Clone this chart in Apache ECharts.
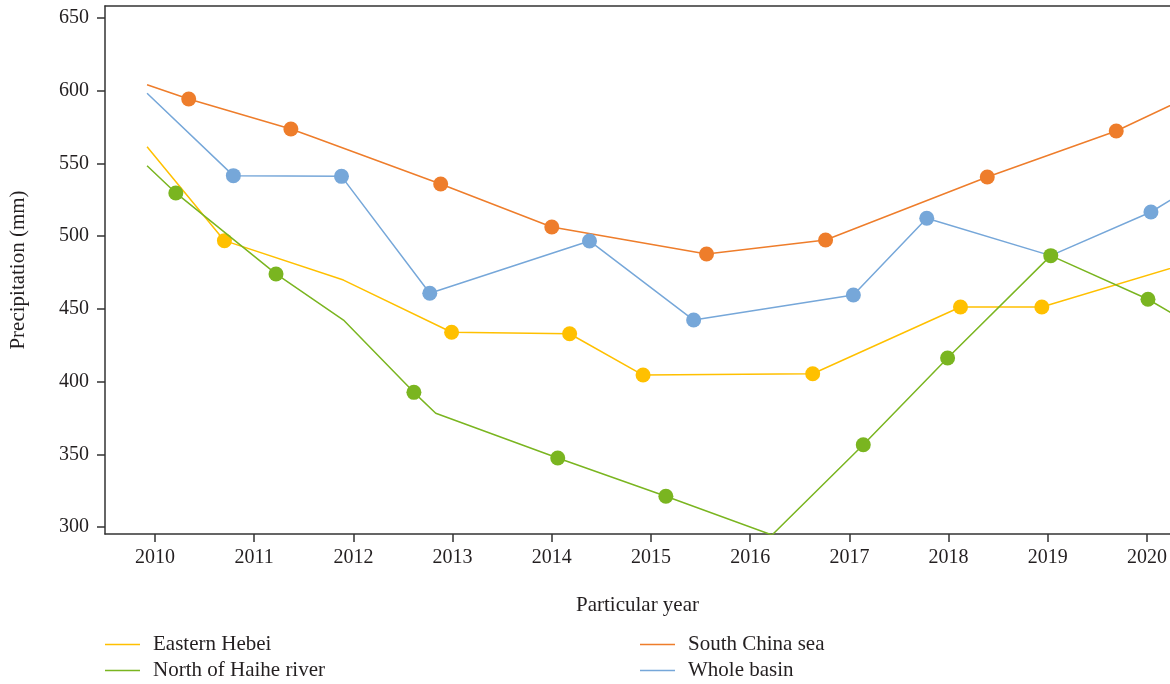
<!DOCTYPE html>
<html>
<head>
<meta charset="utf-8">
<script src="https://cdn.jsdelivr.net/npm/echarts@6/dist/echarts.min.js"></script>
<style>
html,body{margin:0;padding:0;background:#fff;}
#chart{width:1170px;height:684px;}
</style>
</head>
<body>
<div id="chart"></div>
<script>
// Tick labels
const xTicks = [2010, 2011, 2012, 2013, 2014, 2015, 2016, 2017, 2018, 2019, 2020];
const yTicks = [300, 350, 400, 450, 500, 550, 600, 650];
const seriesNames = ['Eastern Hebei', 'North of Haihe river', 'South China sea', 'Whole basin'];

// Eastern Hebei
const hebeiX = [2009.92, 2010.70, 2011.90, 2012.99, 2014.18, 2014.92, 2016.63, 2018.12, 2018.94, 2020.50];
const hebeiY = [561.5, 496.9, 469.8, 433.9, 432.9, 404.5, 405.4, 451.3, 451.3, 483.2];
const hebeiMark = [0, 1, 0, 1, 1, 1, 1, 1, 1, 0];

// North of Haihe river
const haiheX = [2009.92, 2010.21, 2011.22, 2011.90, 2012.61, 2012.83, 2014.06, 2015.15, 2016.22, 2017.14, 2017.99, 2019.03, 2020.01, 2020.50];
const haiheY = [548.4, 529.7, 474.0, 442.3, 392.6, 378.2, 347.4, 321.1, 294.5, 356.6, 416.2, 486.6, 456.6, 437.2];
const haiheMark = [0, 1, 1, 0, 1, 0, 1, 1, 0, 1, 1, 1, 1, 0];

// South China sea
const scsX = [2009.92, 2010.34, 2011.37, 2011.60, 2012.88, 2014.00, 2015.56, 2016.76, 2018.39, 2019.69, 2020.50];
const scsY = [604.1, 594.3, 573.7, 568.0, 535.9, 506.3, 487.7, 497.3, 540.7, 572.3, 598.4];
const scsMark = [0, 1, 1, 0, 1, 1, 1, 1, 1, 1, 0];

// Whole basin
const basinX = [2009.92, 2010.79, 2011.88, 2012.77, 2014.38, 2015.43, 2017.04, 2017.78, 2019.03, 2020.04, 2020.50];
const basinY = [598.2, 541.6, 541.1, 460.7, 496.7, 442.3, 459.5, 512.3, 486.6, 516.6, 535.6];
const basinMark = [0, 1, 1, 1, 1, 1, 1, 1, 0, 1, 0];

const colors = ['#FFC000', '#7AB520', '#EE7D2B', '#76A7D9'];
const FONT = 'Liberation Serif';
const TXT = '#231F20';

function build(xs, ys, marks) {
  return xs.map((x, i) => ({ value: [x, ys[i]], symbol: marks[i] ? 'circle' : 'none' }));
}

function lineSeries(name, data, color, z) {
  return {
    name: name,
    type: 'line',
    data: data,
    symbolSize: 15,
    showAllSymbol: true,
    z: z,
    lineStyle: { color: color, width: 1.5 },
    itemStyle: { color: color },
    emphasis: { disabled: true },
    animation: false
  };
}

function legendFor(name, left, top) {
  return {
    data: [name],
    left: left,
    top: top,
    icon: 'rect',
    itemWidth: 35,
    itemHeight: 1.5,
    padding: 0,
    selectedMode: false,
    textStyle: { fontFamily: FONT, fontSize: 21, color: TXT, padding: [0, 0, 0, 8] }
  };
}

const chart = echarts.init(document.getElementById('chart'), null, { renderer: 'canvas' });

const option = {
  backgroundColor: '#ffffff',
  animation: false,
  grid: { left: 105, right: 0, top: 6, bottom: 150, containLabel: false },
  legend: [
    legendFor(seriesNames[0], 105, 634),
    legendFor(seriesNames[1], 105, 660),
    legendFor(seriesNames[2], 640, 634),
    legendFor(seriesNames[3], 640, 660)
  ],
  xAxis: [
    {
      type: 'value',
      min: 2009.496,
      max: 2020.232,
      name: 'Particular year',
      nameLocation: 'middle',
      nameGap: 61,
      nameTextStyle: { fontFamily: FONT, fontSize: 21, color: TXT },
      axisLine: { show: true, lineStyle: { color: '#333', width: 1.5 } },
      axisTick: { show: true, length: 8, lineStyle: { color: '#333', width: 1.5 }, customValues: xTicks },
      axisLabel: { margin: 14, fontFamily: FONT, fontSize: 20, color: TXT, customValues: xTicks, formatter: v => String(v) },
      splitLine: { show: false }
    },
    {
      type: 'value',
      position: 'top',
      min: 2009.496,
      max: 2020.232,
      axisLine: { show: true, onZero: false, lineStyle: { color: '#333', width: 1.5 } },
      axisTick: { show: false },
      axisLabel: { show: false },
      splitLine: { show: false }
    }
  ],
  yAxis: {
    type: 'value',
    min: 295.19,
    max: 658.25,
    name: 'Precipitation (mm)',
    nameLocation: 'middle',
    nameRotate: 90,
    nameGap: 76,
    nameTextStyle: { fontFamily: FONT, fontSize: 21, color: TXT },
    axisLine: { show: true, lineStyle: { color: '#333', width: 1.5 } },
    axisTick: { show: true, length: 8, lineStyle: { color: '#333', width: 1.5 }, customValues: yTicks },
    axisLabel: { margin: 16, fontFamily: FONT, fontSize: 20, color: TXT, customValues: yTicks },
    splitLine: { show: false }
  },
  series: [
    lineSeries(seriesNames[0], build(hebeiX, hebeiY, hebeiMark), colors[0], 2),
    lineSeries(seriesNames[1], build(haiheX, haiheY, haiheMark), colors[1], 4),
    lineSeries(seriesNames[2], build(scsX, scsY, scsMark), colors[2], 2),
    lineSeries(seriesNames[3], build(basinX, basinY, basinMark), colors[3], 3)
  ]
};

chart.setOption(option);
</script>
</body>
</html>
